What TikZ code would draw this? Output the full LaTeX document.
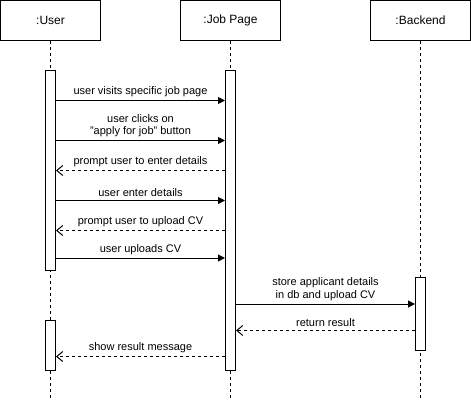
\documentclass[tikz,border=0pt]{standalone}
\usepackage{fontspec}
\setmainfont{Liberation Sans}
\usetikzlibrary{arrows.meta}

\begin{document}
\begin{tikzpicture}[x=1pt,y=-1pt,
  every node/.style={font=\fontsize{11}{12.7}\selectfont},
  obj/.style={draw,line width=1pt,minimum width=100pt,minimum height=40pt,inner sep=0pt,font=\fontsize{12}{14}\selectfont},
  act/.style={draw,fill=white,line width=1pt,minimum width=10pt,inner sep=0pt},
  life/.style={line width=1pt,dash pattern=on 3pt off 3pt},
  call/.style={line width=1pt,-{Triangle[length=7pt,width=7pt]}},
  ret/.style={line width=1pt,dash pattern=on 3pt off 3pt,-{Straight Barb[length=6pt,width=10pt]}},
  lbl/.style={above,inner sep=3pt,align=center}]
\useasboundingbox (0,0) rectangle (471,401);
% objects
\node[obj] (user) at (50.5,20.5) {:User};
\node[obj] (job) at (230.5,20.5) {:Job Page};
\node[obj] (back) at (420.5,20.5) {:Backend};
% lifelines
\coordinate (userend) at (50.5,401);
\coordinate (jobend) at (230.5,401);
\coordinate (backend) at (420.5,401);
\draw[life] (user.south) -- (userend);
\draw[life] (job.south) -- (jobend);
\draw[life] (back.south) -- (backend);
% activations
\node[act,minimum height=200pt] (ua) at (50.5,170.5) {};
\node[act,minimum height=50pt] (ub) at (50.5,345.5) {};
\node[act,minimum height=300pt] (ja) at (230.5,220.5) {};
\node[act,minimum height=73pt] (ba) at (420.5,314) {};
% messages
\draw[call] (ua.east |- 0,100.5) -- node[lbl]{user visits specific job page} (ja.west |- 0,100.5);
\draw[call] (ua.east |- 0,140.5) -- node[lbl]{user clicks on\\"apply for job" button} (ja.west |- 0,140.5);
\draw[ret] (ja.west |- 0,170.5) -- node[lbl]{prompt user to enter details} (ua.east |- 0,170.5);
\draw[call] (ua.east |- 0,200.5) -- node[lbl]{user enter details} (ja.west |- 0,200.5);
\draw[ret] (ja.west |- 0,230.5) -- node[lbl]{prompt user to upload CV} (ua.east |- 0,230.5);
\draw[call] (ua.east |- 0,258) -- node[lbl]{user uploads CV} (ja.west |- 0,258);
\draw[call] (ja.east |- 0,304) -- node[lbl]{store applicant details\\in db and upload CV} (ba.west |- 0,304);
\draw[ret] (ba.west |- 0,330.5) -- node[lbl]{return result} (ja.east |- 0,330.5);
\draw[ret] (ja.west |- 0,356.5) -- node[lbl]{show result message} (ub.east |- 0,356.5);
\end{tikzpicture}
\end{document}
